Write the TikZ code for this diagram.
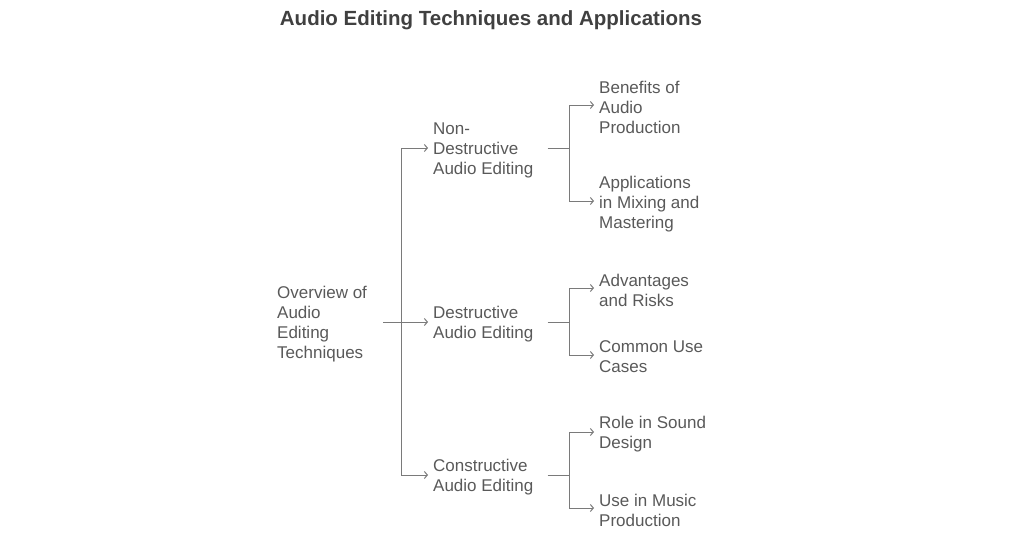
\documentclass[tikz,border=0pt]{standalone}
\usepackage{fontspec}
\setmainfont{Liberation Sans}
\usetikzlibrary{positioning,arrows.meta}

\begin{document}
\begin{tikzpicture}[x=1pt,y=1pt]
  % some colors
  \colorlet{txt}{black!65}
  \colorlet{ttl}{black!75}
  \colorlet{wire}{black!52}
  % some styles
  \tikzset{
    item/.style={
      anchor=west,
      inner sep=0pt,
      align=left,
      text=txt,
      font=\fontsize{17}{20}\selectfont,
    },
    link/.style={wire, line width=1pt},
    arr/.style={link, -{Straight Barb[length=3pt,width=7pt]}, shorten >=5pt},
  }
  \useasboundingbox (0,0) rectangle (1024,-538);
  % title
  \node[font=\bfseries\fontsize{20.5}{24}\selectfont, text=ttl] (title) at (491,-20)
    {Audio Editing Techniques and Applications};
  % root
  \node[item] (root) at (277,-324) {Overview of\\Audio\\Editing\\Techniques};
  % level one
  \node[item] (non) at (433,-150) {Non-\\Destructive\\Audio Editing};
  \node[item] (des) at (433,-324) {Destructive\\Audio Editing};
  \node[item] (con) at (433,-477) {Constructive\\Audio Editing};
  % level two
  \node[item] (ben) at (599,-107) {Benefits of\\Audio\\Production};
  \node[item] (app) at (599,-204) {Applications\\in Mixing and\\Mastering};
  \node[item] (adv) at (599,-290) {Advantages\\and Risks};
  \node[item] (com) at (599,-357) {Common Use\\Cases};
  \node[item] (rol) at (599,-434) {Role in Sound\\Design};
  \node[item] (use) at (599,-510) {Use in Music\\Production};
  % junctions
  \coordinate (j0) at (401,-322);
  \coordinate (j1) at (569,-148);
  \coordinate (j2) at (569,-322);
  \coordinate (j3) at (569,-475);
  % root to level one
  \draw[link, shorten <=16pt] (root.east |- j0) -- (j0);
  \draw[link] (j0 |- j1) -- (j0 |- j3);
  \foreach \j/\n in {j1/non, j2/des, j3/con}
    \draw[arr] (j0 |- \j) -- (\n.west |- \j);
  % level one to level two
  \foreach \a/\j/\b/\c/\yb/\yc in {non/j1/ben/app/105/201, des/j2/adv/com/288/355, con/j3/rol/use/432/508} {
    \draw[link, shorten <=14pt] (\a.east |- \j) -- (\j);
    \draw[link] (\j |- 0,-\yb) -- (\j |- 0,-\yc);
    \draw[arr] (\j |- 0,-\yb) -- (\b.west |- 0,-\yb);
    \draw[arr] (\j |- 0,-\yc) -- (\c.west |- 0,-\yc);
  }
\end{tikzpicture}
\end{document}
